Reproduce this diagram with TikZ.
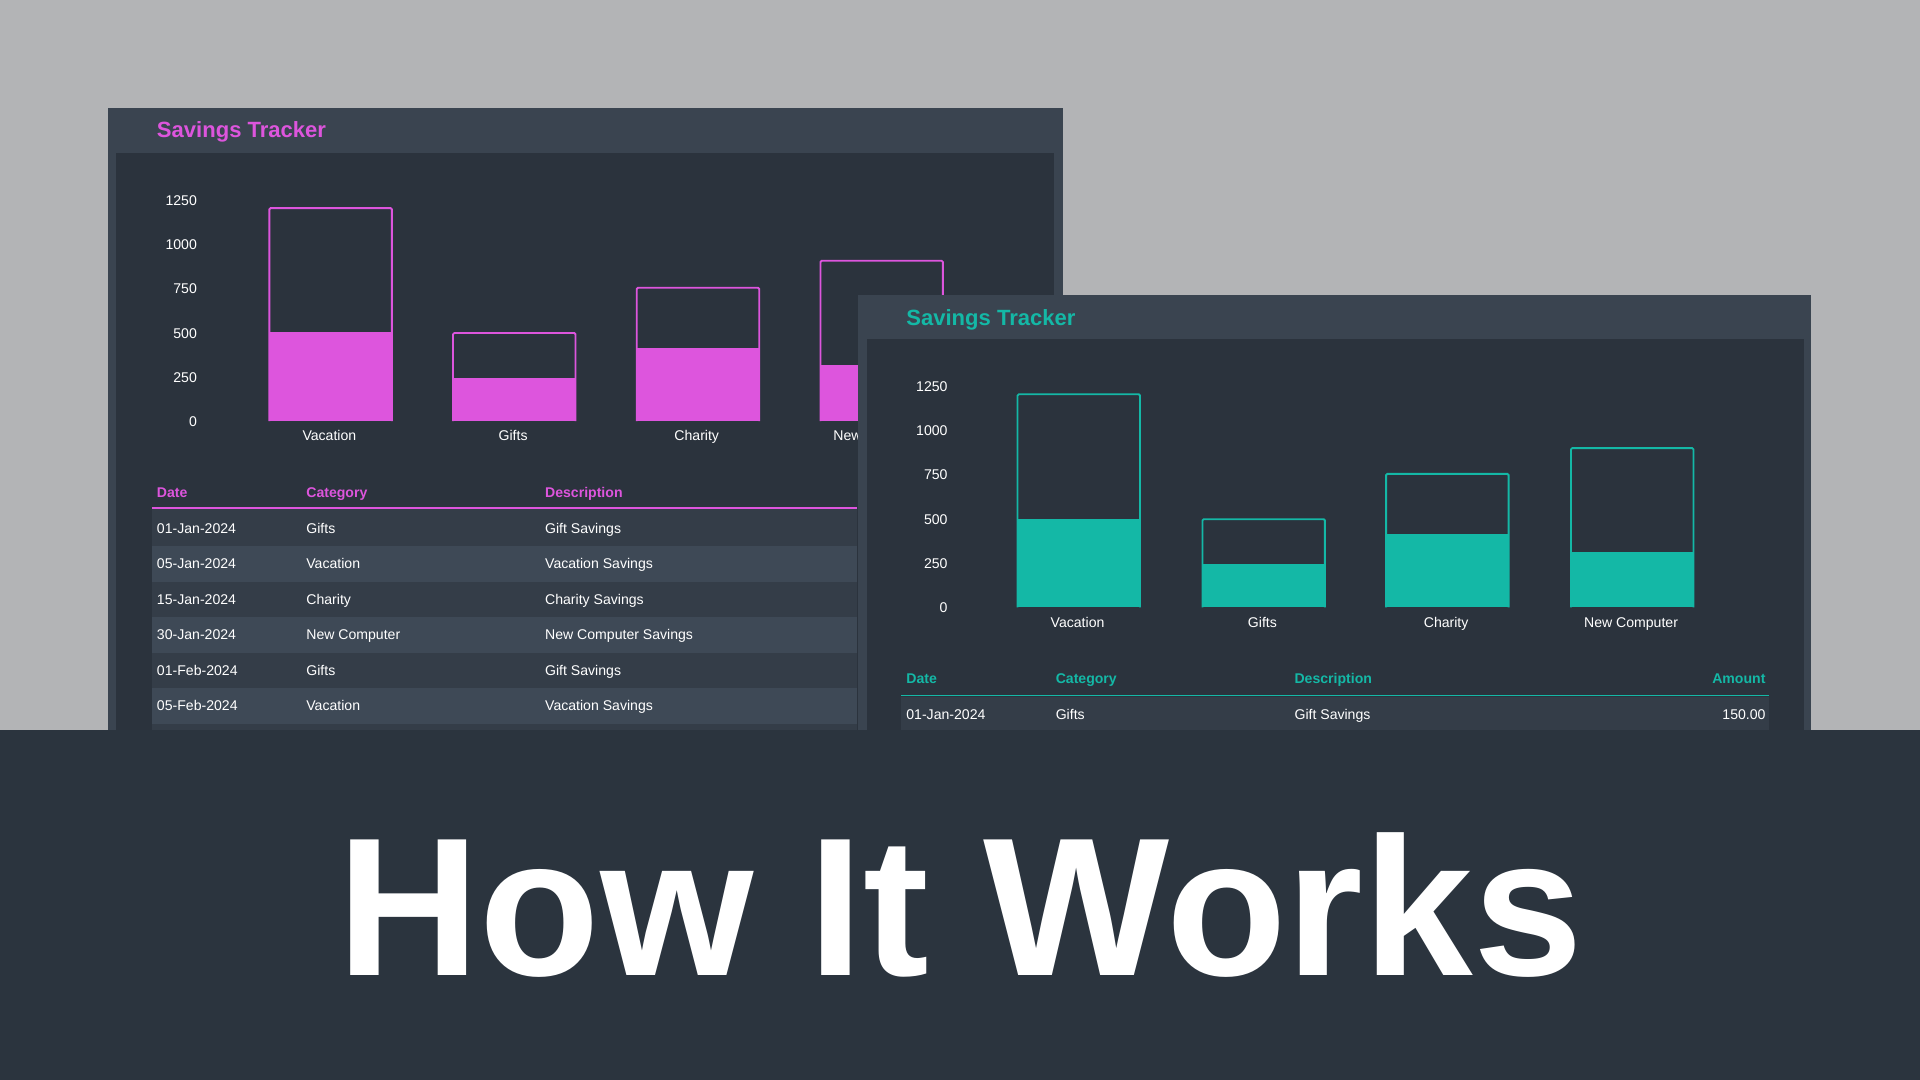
\documentclass[tikz,border=0pt]{standalone}
\usepackage{fontspec}
\setmainfont{Liberation Sans}
\definecolor{bggray}{HTML}{B3B4B6}
\definecolor{darkbg}{HTML}{2B343E}
\definecolor{headbar}{HTML}{3A4450}
\definecolor{panel}{HTML}{2B333D}
\definecolor{rowa}{HTML}{343D48}
\definecolor{rowb}{HTML}{3E4956}
\definecolor{magen}{HTML}{DD55DD}
\definecolor{teal}{HTML}{14B8A6}
\tikzset{
  small/.style={text=white, font=\fontsize{11.5}{13}\selectfont, inner sep=0pt, text height=8.5pt, text depth=2.5pt, yshift=-1.5pt},
  axislbl/.style={small, anchor=east},
  headlbl/.style={font=\bfseries\fontsize{11.5}{13}\selectfont, inner sep=0pt, text height=8.5pt, text depth=2.5pt, anchor=west, yshift=-1.5pt},
  title/.style={font=\bfseries\fontsize{18}{20}\selectfont, inner sep=0pt, text height=13pt, text depth=4pt, anchor=west, yshift=-2pt},
}
\begin{document}
\begin{tikzpicture}[x=1pt,y=-1pt]
  \useasboundingbox (0,0) rectangle (1568,882);
  \fill[bggray] (0,0) rectangle (1568,596);
  % left window
  \fill[headbar] (88,88) rectangle (868,596);
  \fill[panel] (95,125) rectangle (861,596);
  \node[title, text=magen] (ltitle) at (128,106) {Savings Tracker};
  \foreach \v [count=\i from 0] in {0,250,500,750,1000,1250}
    \node[axislbl] (laxis\i) at (161,344-36.2*\i) {\v};
  \foreach \x/\t/\f/\name in {220/170/271/Vacation, 370/272/309/Gifts, 520/235/284/Charity, 670/213/298/New Computer} {
    \fill[magen] (\x,\f) rectangle (\x+100,344);
    \draw[magen, line width=1.5pt, rounded corners=1pt] (\x,344) |- (\x+100,\t) -- (\x+100,344);
    \node[small] (lbar\x) at (\x+49,355) {\name};
  }
  \fill[rowa] (124,416) rectangle (700,596);
  \foreach \y in {446,504,562} \fill[rowb] (124,\y) rectangle (700,\y+29);
  \node[headlbl, text=magen] (ldate) at (128,402) {Date};
  \node[headlbl, text=magen] (lcat) at (250,402) {Category};
  \node[headlbl, text=magen] (ldesc) at (445,402) {Description};
  \draw[magen, line width=1.2pt] (124,415) -- (700,415);
  \foreach \d/\c/\s [count=\i from 0] in {01-Jan-2024/Gifts/Gift Savings, 05-Jan-2024/Vacation/Vacation Savings, 15-Jan-2024/Charity/Charity Savings, 30-Jan-2024/New Computer/New Computer Savings, 01-Feb-2024/Gifts/Gift Savings, 05-Feb-2024/Vacation/Vacation Savings} {
    \node[small, anchor=west] (lrd\i) at (128,431+29*\i) {\d};
    \node[small, anchor=west] (lrc\i) at (250,431+29*\i) {\c};
    \node[small, anchor=west] (lrs\i) at (445,431+29*\i) {\s};
  }
  % right window
  \fill[headbar] (701,241) rectangle (1479,596);
  \fill[panel] (708,277) rectangle (1473,596);
  \node[title, text=teal] (rtitle) at (740,259) {Savings Tracker};
  \foreach \v [count=\i from 0] in {0,250,500,750,1000,1250}
    \node[axislbl] (raxis\i) at (774,496-36.2*\i) {\v};
  \foreach \x/\t/\f/\name in {831/322/424/Vacation, 982/424/461/Gifts, 1132/387/436/Charity, 1283/366/451/New Computer} {
    \fill[teal] (\x,\f) rectangle (\x+100,496);
    \draw[teal, line width=1.5pt, rounded corners=1pt] (\x,496) |- (\x+100,\t) -- (\x+100,496);
    \node[small] (rbar\x) at (\x+49,508) {\name};
  }
  \fill[rowa] (736,569) rectangle (1445,596);
  \node[headlbl, text=teal] (rdate) at (740,554) {Date};
  \node[headlbl, text=teal] (rcat) at (862,554) {Category};
  \node[headlbl, text=teal] (rdesc) at (1057,554) {Description};
  \node[headlbl, text=teal, anchor=east] (ramt) at (1442,554) {Amount};
  \draw[teal, line width=1.2pt] (736,568) -- (1445,568);
  \node[small, anchor=west] (rrd) at (740,583) {01-Jan-2024};
  \node[small, anchor=west] (rrc) at (862,583) {Gifts};
  \node[small, anchor=west] (rrs) at (1057,583) {Gift Savings};
  \node[small, anchor=east] (rra) at (1442,583) {150.00};
  % bottom band
  \fill[darkbg] (0,596) rectangle (1568,882);
  \node[text=white, font=\bfseries\fontsize{161}{165}\selectfont, inner sep=0pt, anchor=base] (big) at (784,797) {How It Works};
\end{tikzpicture}
\end{document}
